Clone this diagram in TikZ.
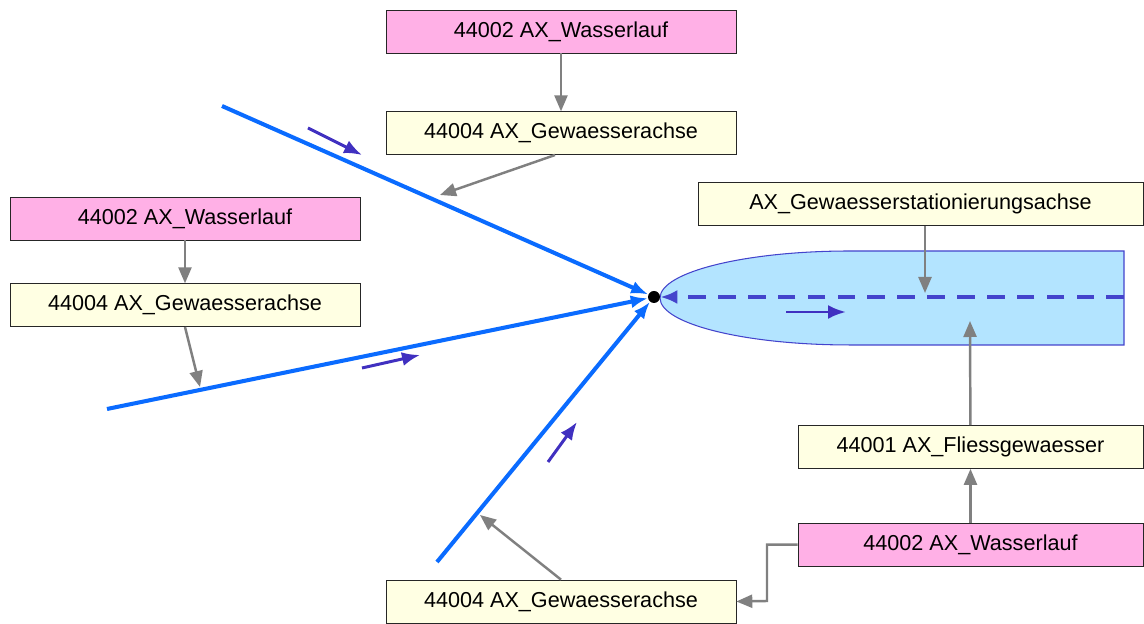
\documentclass[tikz,border=0pt]{standalone}
\usepackage{fontspec}
\setmainfont{Liberation Sans}
\usetikzlibrary{arrows.meta,positioning}
\definecolor{wpink}{HTML}{FFB0E6}
\definecolor{wcream}{HTML}{FFFFE3}
\definecolor{wfill}{HTML}{B3E4FF}
\definecolor{wedge}{HTML}{4444CC}
\definecolor{wblue}{HTML}{0A6BFF}
\definecolor{wflow}{HTML}{4030C0}
\definecolor{wgray}{HTML}{808080}
\begin{document}
\begin{tikzpicture}[x=0.02cm,y=-0.02cm,
lauf/.style={draw=black!85,fill=wpink,minimum width=7cm,minimum height=.86cm,inner sep=0pt,font=\fontsize{12.3}{14}\selectfont},
achse/.style={draw=black!85,fill=wcream,minimum width=7cm,minimum height=.86cm,inner sep=0pt,font=\fontsize{12.3}{14}\selectfont},
ref/.style={-{Triangle[length=3.2mm,width=2.6mm]},wgray,line width=1.4pt},
axis/.style={-{Latex[length=3.4mm,width=2.6mm]},wblue,line width=2.3pt},
flow/.style={-{Latex[length=3.6mm,width=2.8mm]},wflow,line width=1.7pt}]
\useasboundingbox (0,0) rectangle (1144,624);
% water body
\path[draw=wedge,fill=wfill,line width=.6pt](1124,251)--(850,251)arc[start angle=90,end angle=270,x radius=3.8cm,y radius=0.94cm]--(1124,345)--cycle;
% feature boxes
\node[lauf](toplauf) at (561,31.5){44002 AX\_Wasserlauf};
\node[achse,below=1.16cm of toplauf](topachse){44004 AX\_Gewaesserachse};
\node[lauf](leftlauf) at (185,218.5){44002 AX\_Wasserlauf};
\node[achse,below=.86cm of leftlauf](leftachse){44004 AX\_Gewaesserachse};
\node[achse,minimum width=8.9cm](station) at (920.5,204){AX\_Gewaesserstationierungsachse};
\node[achse,minimum width=6.9cm](fliess) at (970.5,447){44001 AX\_Fliessgewaesser};
\node[lauf,minimum width=6.9cm,below=1.08cm of fliess](rightlauf){44002 AX\_Wasserlauf};
\node[achse](botachse) at (561,601.5){44004 AX\_Gewaesserachse};
% junction
\node[circle,fill=black,inner sep=0pt,minimum size=.24cm](jct) at (654,297){};
\coordinate (s1) at (222,106);\coordinate (s2) at (107,409);\coordinate (s3) at (437,562);
\coordinate (axend) at (1124,297);
\draw[axis](s1)--(jct);\draw[axis](s2)--(jct);\draw[axis](s3)--(jct);
\draw[-{Latex[length=3.4mm,width=2.8mm]},wedge,line width=1.9pt,dash pattern=on 10pt off 7pt](axend)--(jct);
% flow directions
\draw[flow](308,128)--(362,155);\draw[flow](362,368)--(420,355);
\draw[flow](548,462)--(577,422);\draw[flow](786,312)--(846,312);
% references
\coordinate (h1) at (440,195);\coordinate (h2) at (200,387);\coordinate (h3) at (480,515);
\coordinate (hs) at (925,293);\coordinate (hf) at (970,321);
\draw[ref](toplauf)--(topachse);\draw[ref](topachse.south)++(-6,0)--(h1);
\draw[ref](leftlauf)--(leftachse);\draw[ref](leftachse.south)--(h2);
\draw[ref](station.south-|hs)--(hs);\draw[ref](fliess)--(hf);
\draw[ref](rightlauf)--(fliess);\draw[ref](botachse.north)--(h3);
\draw[ref](rightlauf.west)-|(767,601)--(botachse.east);
\end{tikzpicture}
\end{document}
